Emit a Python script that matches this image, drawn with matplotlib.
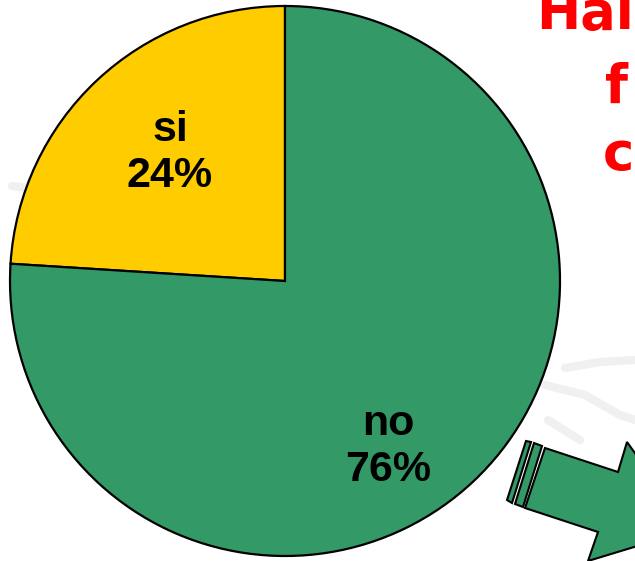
import matplotlib
matplotlib.use("Agg")
import matplotlib.pyplot as plt
from matplotlib.patches import Polygon

# Survey answers
labels = ["si", "no"]
values = [24, 76]
colors = ["#FFCC00", "#339966"]

W, H = 635, 561

fig = plt.figure(figsize=(W / 100, H / 100), dpi=100)
ax = fig.add_axes([0, 0, 1, 1])

# faint sketch lines in the background (pixel coords, y from top)
haze = [
    ([12, 28], [186, 188]),
    ([565, 600, 635], [368, 362, 360]),
    ([545, 585, 620, 635], [385, 395, 415, 420]),
    ([548, 580], [420, 440]),
]
for xs, ys in haze:
    ax.plot(xs, [H - y for y in ys], color="#f0f0f0", lw=6,
            solid_capstyle="round", zorder=0)

# pie
cx, cy, r = 285, H - 281, 275
wedges, _ = ax.pie(values, colors=colors, startangle=90, counterclock=True,
                   center=(cx, cy), radius=r, frame=True,
                   wedgeprops=dict(edgecolor="black", linewidth=1.6))
ax.set_xlim(0, W)
ax.set_ylim(0, H)
ax.set_aspect("equal")
ax.axis("off")

label_pos = [(170, H - 153), (388, H - 447)]
for (x, y), lab, v in zip(label_pos, labels, values):
    ax.text(x, y, f"{lab}\n{v}%", ha="center", va="center",
            fontsize=31, fontweight="bold", family="Liberation Sans",
            linespacing=1.2, zorder=5)

# red heading, cut by the right edge
head = [("Hai", 536, 29), ("f", 605, 103), ("c", 603, 170)]
for txt, x, y in head:
    ax.text(x, H - y, txt, color="#FF0000", fontsize=38, fontweight="bold",
            family="DejaVu Sans", ha="left", va="baseline", zorder=5)

# green arrow pointing down-right
body = [(545, 448), (618, 472), (627, 442), (690, 530),
        (588, 561), (598, 532), (525, 508)]
stripes = [
    [(526, 441), (531, 442), (512, 503), (507, 500)],
    [(534, 443), (542, 446), (523, 507), (515, 504)],
]
for pts in [body] + stripes:
    ax.add_patch(Polygon([(x, H - y) for x, y in pts], closed=True,
                         facecolor="#339966", edgecolor="black", lw=1.5, zorder=3))

fig.savefig("out.png", dpi=100)
